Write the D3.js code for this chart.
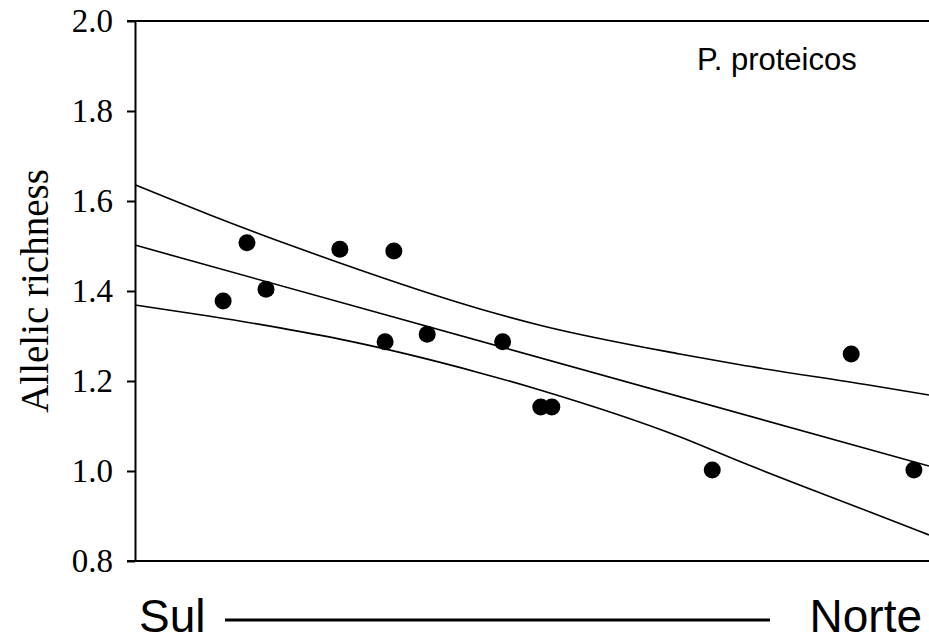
<!DOCTYPE html>
<html>
<head>
<meta charset="utf-8">
<script src="https://d3js.org/d3.v7.min.js"></script>
<style>
  body { margin: 0; background: #fff; }
</style>
</head>
<body>
<script>
// site position along the south-north axis (0 = south edge, 100 = north edge)
var siteX = [11.1, 14.1, 16.5, 25.8, 31.5, 32.6, 36.8, 46.3, 51.1, 52.5, 72.7, 90.2, 98.1];
var richness = [1.378, 1.507, 1.404, 1.493, 1.287, 1.489, 1.304, 1.287, 1.142, 1.142, 1.002, 1.260, 1.002];

// regression line and confidence band
var fitX = [0, 100];
var fitY = [1.502, 1.011];
var bandX = [0, 9.45, 18.26, 25.8, 43.45, 51.0, 68.6, 76.2, 92.4, 100];
var upperY = [1.636, 1.569, 1.510, 1.462, 1.360, 1.324, 1.260, 1.236, 1.191, 1.169];
var lowerY = [1.369, 1.344, 1.318, 1.293, 1.218, 1.180, 1.076, 1.021, 0.910, 0.858];

var yTicks = [0.8, 1.0, 1.2, 1.4, 1.6, 1.8, 2.0];

var W = 929, H = 642;
var plotLeft = 135, plotRight = 929, plotTop = 21, plotBottom = 561;

var svg = d3.select("body").append("svg")
  .attr("width", W)
  .attr("height", H);

var x = d3.scaleLinear().domain([0, 100]).range([plotLeft, plotRight]);
var y = d3.scaleLinear().domain([0.8, 2.0]).range([plotBottom, plotTop]);

// left axis
var yAxis = d3.axisLeft(y)
  .tickValues(yTicks)
  .tickFormat(d3.format(".1f"))
  .tickSize(8)
  .tickPadding(14)
  .tickSizeOuter(0);

var ga = svg.append("g")
  .attr("transform", "translate(" + plotLeft + ",0)")
  .call(yAxis);
ga.select(".domain").attr("stroke", "#000").attr("stroke-width", 2);
ga.selectAll(".tick line").attr("stroke", "#000").attr("stroke-width", 2);
ga.selectAll(".tick text")
  .attr("font-family", "'Liberation Serif', 'Times New Roman', serif")
  .attr("font-size", "33px")
  .attr("fill", "#000");

// top and bottom frame lines
svg.append("line")
  .attr("x1", plotLeft - 8).attr("x2", plotRight)
  .attr("y1", y(2.0)).attr("y2", y(2.0))
  .attr("stroke", "#000").attr("stroke-width", 2);
svg.append("line")
  .attr("x1", plotLeft - 8).attr("x2", plotRight)
  .attr("y1", y(0.8)).attr("y2", y(0.8))
  .attr("stroke", "#000").attr("stroke-width", 2);

// lines
var bandLine = d3.line()
  .x(function(d){ return x(d[0]); })
  .y(function(d){ return y(d[1]); })
  .curve(d3.curveMonotoneX);

svg.append("path")
  .datum(d3.zip(bandX, upperY))
  .attr("d", bandLine)
  .attr("fill", "none").attr("stroke", "#000").attr("stroke-width", 1.6);
svg.append("path")
  .datum(d3.zip(bandX, lowerY))
  .attr("d", bandLine)
  .attr("fill", "none").attr("stroke", "#000").attr("stroke-width", 1.6);
svg.append("path")
  .datum(d3.zip(fitX, fitY))
  .attr("d", bandLine)
  .attr("fill", "none").attr("stroke", "#000").attr("stroke-width", 1.6);

// points
svg.selectAll("circle.pt")
  .data(d3.zip(siteX, richness))
  .enter()
  .append("circle")
  .attr("class", "pt")
  .attr("cx", function(d){ return x(d[0]); })
  .attr("cy", function(d){ return y(d[1]); })
  .attr("r", 8.5)
  .attr("fill", "#000");

// labels
svg.append("text")
  .attr("transform", "translate(48," + ((plotTop + plotBottom) / 2) + ") rotate(-90)")
  .attr("text-anchor", "middle")
  .attr("font-family", "'Liberation Serif', 'Times New Roman', serif")
  .attr("font-size", "39px")
  .text("Allelic richness");

svg.append("text")
  .attr("x", 697).attr("y", 70)
  .attr("font-family", "'Liberation Sans', Arial, sans-serif")
  .attr("font-size", "31px")
  .text("P. proteicos");

svg.append("text")
  .attr("x", 139).attr("y", 632)
  .attr("font-family", "'Liberation Sans', Arial, sans-serif")
  .attr("font-size", "46px")
  .text("Sul");

svg.append("text")
  .attr("x", 922).attr("y", 632)
  .attr("text-anchor", "end")
  .attr("font-family", "'Liberation Sans', Arial, sans-serif")
  .attr("font-size", "46px")
  .text("Norte");

svg.append("line")
  .attr("x1", 225).attr("x2", 770)
  .attr("y1", 620).attr("y2", 620)
  .attr("stroke", "#000").attr("stroke-width", 3);
</script>
</body>
</html>
